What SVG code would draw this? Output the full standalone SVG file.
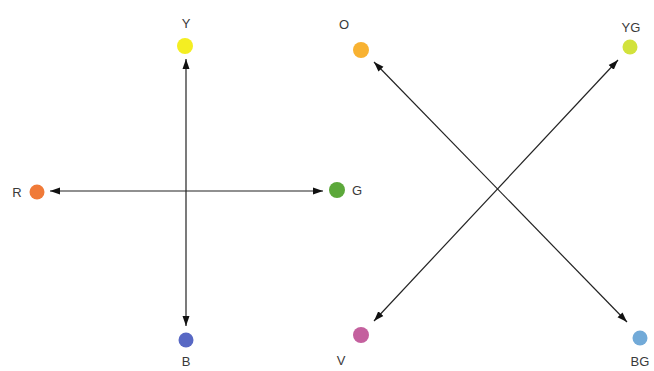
<svg xmlns="http://www.w3.org/2000/svg" width="654" height="371" viewBox="0 0 654 371">
<style>
text{font-family:"Liberation Sans",Arial,sans-serif;font-size:13px;fill:#3a3a3a;text-anchor:middle;dominant-baseline:central}
.c{stroke:none}
.ln{stroke:#222;stroke-width:1.2;fill:none;marker-start:url(#a);marker-end:url(#a)}
</style>
<defs>
<marker id="a" viewBox="0 0 10 10" refX="10" refY="5" markerWidth="10" markerHeight="10" markerUnits="userSpaceOnUse" orient="auto-start-reverse"><path d="M0,1.5 L10,5 L0,8.5 Z" fill="#111"/></marker>
</defs>
<rect width="654" height="371" fill="#fff"/>
<g id="connectors">
<line class="ln" x1="186" y1="59" x2="186" y2="326"/>
<line class="ln" x1="50" y1="191" x2="323" y2="191"/>
<line class="ln" x1="374" y1="62" x2="627" y2="322"/>
<line class="ln" x1="618" y1="60" x2="374" y2="321"/>
</g>
<g id="Y"><circle class="c" cx="185" cy="46" r="8" fill="#f4ee22"/><text x="186" y="23">Y</text></g>
<g id="R"><circle class="c" cx="37" cy="192" r="7.5" fill="#f07a38"/><text x="17" y="192">R</text></g>
<g id="G"><circle class="c" cx="337" cy="190" r="8" fill="#5ca83a"/><text x="357" y="190">G</text></g>
<g id="B"><circle class="c" cx="186" cy="340" r="7.5" fill="#5868c4"/><text x="186" y="361">B</text></g>
<g id="O"><circle class="c" cx="361" cy="50" r="8" fill="#f8b232"/><text x="344" y="24">O</text></g>
<g id="YG"><circle class="c" cx="630" cy="47" r="7.5" fill="#d2e23c"/><text x="631" y="27">YG</text></g>
<g id="V"><circle class="c" cx="361" cy="335" r="8" fill="#c4609e"/><text x="341" y="360">V</text></g>
<g id="BG"><circle class="c" cx="640" cy="338" r="7.5" fill="#72aad8"/><text x="640" y="361">BG</text></g>
</svg>
